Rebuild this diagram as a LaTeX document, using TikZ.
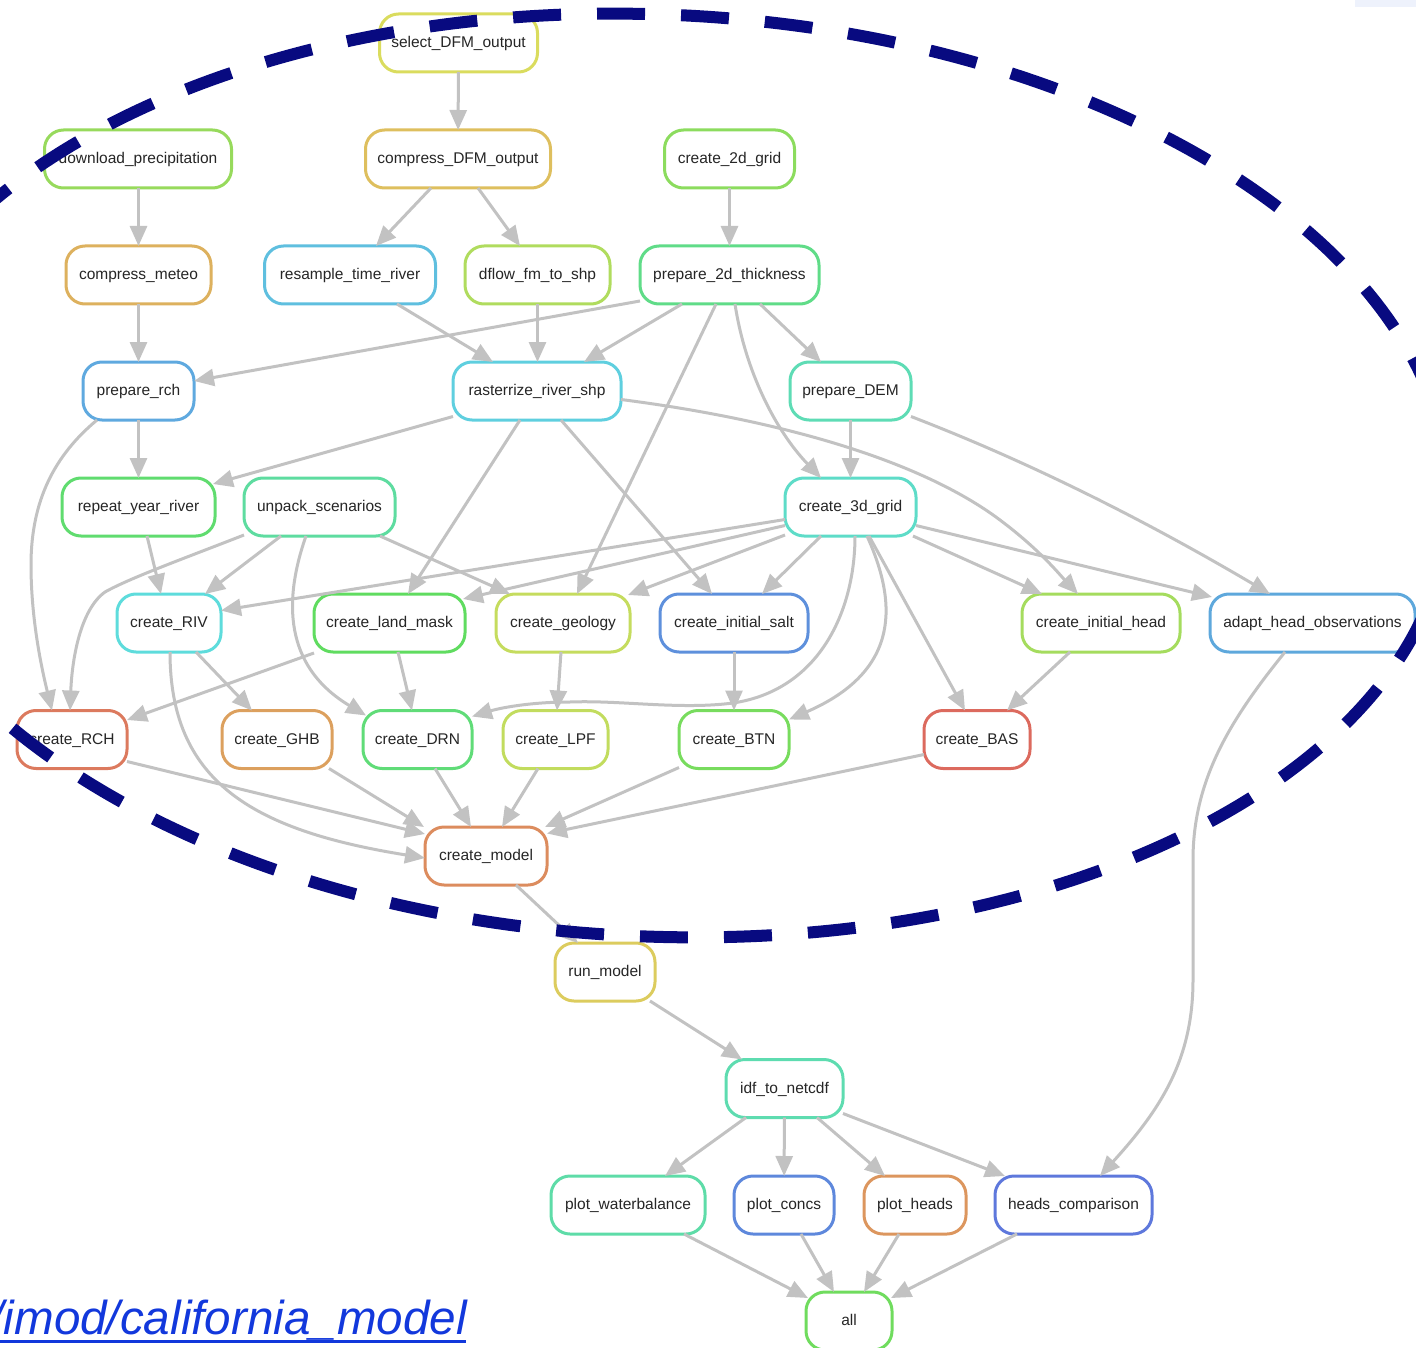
\documentclass[tikz,border=0pt]{standalone}
\usepackage{fontspec}
\setmainfont{Liberation Sans}
\usetikzlibrary{arrows.meta}
\definecolor{cg}{HTML}{C2C2C2}
\definecolor{navyb}{HTML}{080A80}
\definecolor{linkblue}{HTML}{1238DC}
\definecolor{paleb}{HTML}{EEF2FC}
\definecolor{csel}{HTML}{DADC5E}\definecolor{cdl}{HTML}{97DA5C}\definecolor{ccdfm}{HTML}{DEBF5E}
\definecolor{cctd}{HTML}{8CDC5E}\definecolor{ccmet}{HTML}{DDB15E}\definecolor{crtr}{HTML}{5FBFDF}
\definecolor{cdfl}{HTML}{B0DC5E}\definecolor{cptd}{HTML}{60DC88}\definecolor{cprch}{HTML}{5FA9DF}
\definecolor{crrs}{HTML}{5FCFDF}\definecolor{cpdem}{HTML}{5EDCB5}\definecolor{crep}{HTML}{60DC6F}
\definecolor{cunp}{HTML}{5EDCA0}\definecolor{cctg}{HTML}{5EDCC8}\definecolor{ccriv}{HTML}{5EDCDC}
\definecolor{cclm}{HTML}{60DC60}\definecolor{ccgeo}{HTML}{C5DC5E}\definecolor{ccis}{HTML}{5E90DC}
\definecolor{ccih}{HTML}{A5DC5E}\definecolor{caho}{HTML}{5EA8DC}\definecolor{crch}{HTML}{DC7A5E}
\definecolor{cghb}{HTML}{DCA05E}\definecolor{cdrn}{HTML}{60DC78}\definecolor{clpf}{HTML}{C2DC5E}
\definecolor{cbtn}{HTML}{78DC5E}\definecolor{cbas}{HTML}{DC6A5E}\definecolor{cmodel}{HTML}{DC8C5E}
\definecolor{crun}{HTML}{DCCC5E}\definecolor{cidf}{HTML}{5EDCB0}\definecolor{cpw}{HTML}{5EDCA8}
\definecolor{cpc}{HTML}{5E88DC}\definecolor{cph}{HTML}{DC965E}\definecolor{chc}{HTML}{5E78DC}
\definecolor{call}{HTML}{70DC5E}
\tikzset{
 nd/.style={draw=#1,fill=white,line width=3pt,rounded corners=19pt,minimum height=58pt,inner sep=0pt,outer sep=0pt,yshift=-0.5pt,text height=11pt,text depth=1.4pt,font=\fontsize{15.5}{18}\selectfont,text=black!85},
 edge/.style={draw=cg,line width=3pt,-{Triangle[length=20pt,width=17pt]}},
 ring/.style={draw=navyb,line width=12pt,dash pattern=on 48pt off 36pt},
}
\begin{document}
\begin{tikzpicture}[x=1pt,y=-1pt]
\useasboundingbox (0,0) rectangle (1416,1348);
\begin{scope}
\clip (0,0) rectangle (1416,1348);
\fill[paleb] (1355,0) rectangle (1416,7);
% nodes
\node[nd=csel,minimum width=158pt] (sel) at (458.5,42.5) {select\_DFM\_output};
\node[nd=cdl,minimum width=187pt] (dl) at (138,158.5) {download\_precipitation};
\node[nd=ccdfm,minimum width=185pt] (cdfm) at (458,158.5) {compress\_DFM\_output};
\node[nd=cctd,minimum width=130pt] (ctd) at (729.5,158.5) {create\_2d\_grid};
\node[nd=ccmet,minimum width=145pt] (cmet) at (138.5,274.5) {compress\_meteo};
\node[nd=crtr,minimum width=171pt] (rtr) at (350,274.5) {resample\_time\_river};
\node[nd=cdfl,minimum width=145pt] (dfl) at (537.5,274.5) {dflow\_fm\_to\_shp};
\node[nd=cptd,minimum width=179pt] (ptd) at (729.5,274.5) {prepare\_2d\_thickness};
\node[nd=cprch,minimum width=111pt] (prch) at (138.5,390.5) {prepare\_rch};
\node[nd=crrs,minimum width=168pt] (rrs) at (537,390.5) {rasterrize\_river\_shp};
\node[nd=cpdem,minimum width=121pt] (pdem) at (850.5,390.5) {prepare\_DEM};
\node[nd=crep,minimum width=153pt] (rep) at (138.5,506.5) {repeat\_year\_river};
\node[nd=cunp,minimum width=151pt] (unp) at (319.5,506.5) {unpack\_scenarios};
\node[nd=cctg,minimum width=131pt] (ctg) at (850.5,506.5) {create\_3d\_grid};
\node[nd=ccriv,minimum width=104pt] (criv) at (169,622.5) {create\_RIV};
\node[nd=cclm,minimum width=151pt] (clm) at (389.5,622.5) {create\_land\_mask};
\node[nd=ccgeo,minimum width=134pt] (cgeo) at (563,622.5) {create\_geology};
\node[nd=ccis,minimum width=148pt] (cis) at (734,622.5) {create\_initial\_salt};
\node[nd=ccih,minimum width=158pt] (cih) at (1101,622.5) {create\_initial\_head};
\node[nd=caho,minimum width=205pt] (aho) at (1312.5,622.5) {adapt\_head\_observations};
\node[nd=crch,minimum width=110pt] (rch) at (72,739) {create\_RCH};
\node[nd=cghb,minimum width=110pt] (ghb) at (277,739) {create\_GHB};
\node[nd=cdrn,minimum width=109pt] (drn) at (417.5,739) {create\_DRN};
\node[nd=clpf,minimum width=105pt] (lpf) at (555.5,739) {create\_LPF};
\node[nd=cbtn,minimum width=110pt] (btn) at (734,739) {create\_BTN};
\node[nd=cbas,minimum width=106pt] (bas) at (977,739) {create\_BAS};
\node[nd=cmodel,minimum width=122pt] (model) at (486,855.5) {create\_model};
\node[nd=crun,minimum width=100pt] (run) at (605,971.5) {run\_model};
\node[nd=cidf,minimum width=117pt] (idf) at (784.5,1088) {idf\_to\_netcdf};
\node[nd=cpw,minimum width=154pt] (pw) at (628,1204.5) {plot\_waterbalance};
\node[nd=cpc,minimum width=100pt] (pc) at (784,1204.5) {plot\_concs};
\node[nd=cph,minimum width=102pt] (ph) at (915,1204.5) {plot\_heads};
\node[nd=chc,minimum width=157pt] (hc) at (1073.5,1204.5) {heads\_comparison};
\node[nd=call,minimum width=86pt] (allr) at (849,1320.5) {all};
% connectors
\draw[edge] (sel) -- (cdfm);
\draw[edge] ([xshift=0.5]dl.south) -- ([xshift=0]cmet.north);
\draw[edge] ([xshift=431-458]cdfm.south) -- ([xshift=376-350]rtr.north);
\draw[edge] ([xshift=478-458]cdfm.south) -- ([xshift=520-537.5]dfl.north);
\draw[edge] (ctd) -- (ptd);
\draw[edge] (cmet) -- (prch);
\draw[edge] ([xshift=397-350]rtr.south) -- ([xshift=493-537]rrs.north);
\draw[edge] (dfl.south) -- ([xshift=0.5]rrs.north);
\draw[edge] ([yshift=-26]ptd.west) -- ([yshift=10]prch.east);
\draw[edge] ([xshift=682-729.5]ptd.south) -- ([xshift=584-537]rrs.north);
\draw[edge] ([xshift=760-729.5]ptd.south) -- ([xshift=821-850.5]pdem.north);
\draw[edge] ([xshift=716-729.5]ptd.south) -- ([xshift=577-563]cgeo.north);
\draw[edge] ([xshift=735-729.5]ptd.south) .. controls (745,370) and (775,430) .. ([xshift=821-850.5]ctg.north);
\draw[edge] (prch) -- (rep);
\draw[edge] ([xshift=97-138.5]prch.south) .. controls (55,455) and (31,500) .. (31,565) .. controls (31,620) and (42,670) .. ([xshift=52-72]rch.north);
\draw[edge] ([yshift=-25.5]rrs.west) -- ([xshift=213-138.5,yshift=-6]rep.north);
\draw[edge] ([xshift=520-537]rrs.south) -- ([xshift=408-389.5]clm.north);
\draw[edge] ([xshift=561-537]rrs.south) -- ([xshift=712-734]cis.north);
\draw[edge] ([yshift=-8.5]rrs.east) .. controls (780,420) and (920,460) .. (1000,520) .. controls (1040,550) and (1060,575) .. ([xshift=1078-1101]cih.north);
\draw[edge] (pdem) -- (ctg);
\draw[edge] ([yshift=-25.5]pdem.east) .. controls (1050,470) and (1170,535) .. ([xshift=1270-1312.5]aho.north);
\draw[edge] ([xshift=147-138.5]rep.south) -- ([xshift=161-169]criv.north);
\draw[edge] ([xshift=281-319.5]unp.south) -- ([xshift=205-169]criv.north);
\draw[edge] ([yshift=-28]unp.west) .. controls (180,560) and (130,578) .. (105,592) .. controls (80,610) and (72,660) .. ([xshift=-2]rch.north);
\draw[edge] ([xshift=306-319.5]unp.south) .. controls (280,610) and (290,670) .. ([yshift=-5,xshift=366-417.5]drn.north);
\draw[edge] ([xshift=380-319.5]unp.south) -- ([xshift=510-563]cgeo.north);
\draw[edge] ([yshift=-12.5]ctg.west) -- ([yshift=12.5]criv.east);
\draw[edge] ([yshift=-18.5]ctg.west) -- ([xshift=463-389.5,yshift=-5]clm.north);
\draw[edge] ([yshift=-28]ctg.west) -- ([xshift=628-563,yshift=-1]cgeo.north);
\draw[edge] ([xshift=821-850.5]ctg.south) -- ([xshift=762-734]cis.north);
\draw[edge] ([xshift=913-850.5]ctg.south) -- ([xshift=1042-1101]cih.north);
\draw[edge] ([yshift=-18.5]ctg.east) -- ([xshift=1212-1312.5,yshift=-3]aho.north);
\draw[edge] ([xshift=869-850.5]ctg.south) -- ([xshift=965-977]bas.north);
\draw[edge] ([xshift=867-850.5]ctg.south) .. controls (896,600) and (903,670) .. ([yshift=-9,xshift=0]btn.north east);
\draw[edge] ([xshift=855-850.5]ctg.south) .. controls (855,610) and (820,690) .. (733,703) .. controls (680,710) and (620,700) .. (570,702) .. controls (530,702) and (500,708) .. ([yshift=-6]drn.north east);
\draw[edge] ([yshift=-30]clm.west) -- ([yshift=19.5]rch.east);
\draw[edge] ([xshift=398-389.5]clm.south) -- ([xshift=412-417.5]drn.north);
\draw[edge] ([xshift=561-563]cgeo.south) -- ([xshift=557-555.5]lpf.north);
\draw[edge] (cis) -- (btn);
\draw[edge] ([xshift=1070-1101]cih.south) -- ([xshift=1007-977]bas.north);
\draw[edge] ([xshift=196-169]criv.south) -- ([xshift=252-277]ghb.north);
\draw[edge] ([xshift=170-169]criv.south) .. controls (170,780) and (250,830) .. ([yshift=-2]model.west);
\draw[edge] ([yshift=-22]rch.east) -- ([yshift=22]model.west);
\draw[edge] ([xshift=329-277]ghb.south) -- ([xshift=424-486,yshift=0]model.north);
\draw[edge] ([xshift=435-417.5]drn.south) -- ([xshift=471-486]model.north);
\draw[edge] ([xshift=538-555.5]lpf.south) -- ([xshift=502-486]model.north);
\draw[edge] ([yshift=-28]btn.west) -- ([xshift=545-486]model.north);
\draw[edge] ([yshift=-15]bas.west) -- ([yshift=22.5]model.east);
\draw[edge] ([xshift=516-486]model.south) -- ([xshift=578-605]run.north);
\draw[edge] ([xshift=650-605]run.south) -- ([xshift=742-784.5]idf.north);
\draw[edge] ([xshift=1285-1312.5]aho.south) .. controls (1230,720) and (1193,780) .. (1193,860) -- (1193,980) .. controls (1193,1060) and (1160,1110) .. ([xshift=1100-1073.5]hc.north);
\draw[edge] ([xshift=746-784.5]idf.south) -- ([xshift=665-628]pw.north);
\draw[edge] (idf) -- (pc);
\draw[edge] ([xshift=817-784.5]idf.south) -- ([xshift=885-915]ph.north);
\draw[edge] ([yshift=-25]idf.east) -- ([xshift=1005-1073.5]hc.north);
\draw[edge] ([xshift=684-628]pw.south) -- ([xshift=808-849,yshift=-6]allr.north);
\draw[edge] ([xshift=801-784]pc.south) -- ([xshift=834-849]allr.north);
\draw[edge] ([xshift=899-915]ph.south) -- ([xshift=864-849]allr.north);
\draw[edge] ([xshift=1017-1073.5]hc.south) -- ([xshift=891-849,yshift=-6]allr.north);
% ring
\begin{scope}[rotate around={-2.5:(655,475.5)}]
\draw[ring,dash phase=57pt] (1450,475.5) arc[start angle=0,end angle=180,x radius=795,y radius=461];
\draw[ring,dash phase=82pt] (-140,475.5) arc[start angle=180,end angle=360,x radius=795,y radius=461];
\end{scope}
% link
\node[anchor=base east,inner sep=0pt,font=\fontsize{47.6}{50}\selectfont\itshape,text=linkblue] (link) at (467,1334.5) {/imod/california\_model};
\coordinate (ulend) at (466,1341);
\coordinate (ulstart) at (0,1341);
\draw[linkblue,line width=3pt] (ulstart) -- (ulend);
\end{scope}
\end{tikzpicture}
\end{document}
